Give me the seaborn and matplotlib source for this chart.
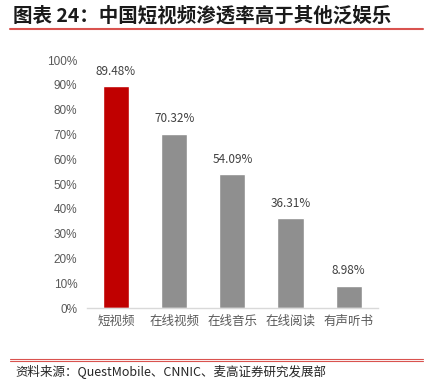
import matplotlib
matplotlib.use("Agg")
import matplotlib.pyplot as plt
import seaborn as sns
import pandas as pd
from matplotlib.lines import Line2D

categories = ["短视频", "在线视频", "在线音乐", "在线阅读", "有声听书"]
values = [89.48, 70.32, 54.09, 36.31, 8.98]
value_labels = ["89.48%", "70.32%", "54.09%", "36.31%", "8.98%"]
yticks = [0, 10, 20, 30, 40, 50, 60, 70, 80, 90, 100]
ytick_labels = ["0%", "10%", "20%", "30%", "40%", "50%", "60%", "70%", "80%", "90%", "100%"]
title = "图表 24：中国短视频渗透率高于其他泛娱乐"
source = "资料来源：QuestMobile、CNNIC、麦高证券研究发展部"

sns.set_theme(style="white")
plt.rcParams['font.family'] = ['Noto Sans CJK SC', 'DejaVu Sans']

df = pd.DataFrame({"cat": categories, "val": values})
palette = ["#C00000", "#8F8F8F", "#8F8F8F", "#8F8F8F", "#8F8F8F"]

fig = plt.figure(figsize=(4.26, 3.90), dpi=100)
ax = fig.add_axes([0.204, 0.21, 0.683, 0.636])
sns.barplot(data=df, x="cat", y="val", hue="cat", palette=palette, legend=False,
            width=0.45, ax=ax, saturation=1)
ax.set_ylim(0, 100)
ax.set_xlim(-0.5, len(categories) - 0.5)
ax.set_yticks(yticks)
ax.set_yticklabels(ytick_labels, fontsize=8.5, color="#595959", family=["Liberation Sans", "DejaVu Sans"])
ax.set_xticks(range(len(categories)))
ax.set_xticklabels(categories, fontsize=9, color="#595959")
ax.tick_params(axis="y", length=0, pad=7)
ax.tick_params(axis="x", length=0, pad=5)
ax.set_xlabel("")
ax.set_ylabel("")
for s in ["top", "right", "left"]:
    ax.spines[s].set_visible(False)
ax.spines["bottom"].set_color("#D9D9D9")
ax.spines["bottom"].set_linewidth(1)

for i, (v, lab) in enumerate(zip(values, value_labels)):
    ax.annotate(lab, (i, v), xytext=(0, 6), textcoords="offset points",
                ha="center", va="bottom", fontsize=8.5, color="#404040")

fig.text(0.030, 0.960, title, fontsize=14, fontweight="bold", color="#1a1a1a", va="center", ha="left")
fig.add_artist(Line2D([0.023, 0.993], [0.925, 0.925], color="#D9534F", lw=1.5, transform=fig.transFigure))
fig.add_artist(Line2D([0.023, 0.993], [0.080, 0.080], color="#D9534F", lw=0.8, transform=fig.transFigure))
fig.add_artist(Line2D([0.023, 0.993], [0.074, 0.074], color="#D9534F", lw=0.8, transform=fig.transFigure))
fig.text(0.037, 0.045, source, fontsize=9, color="#262626", va="center", ha="left")

fig.savefig("out.png", dpi=100)
